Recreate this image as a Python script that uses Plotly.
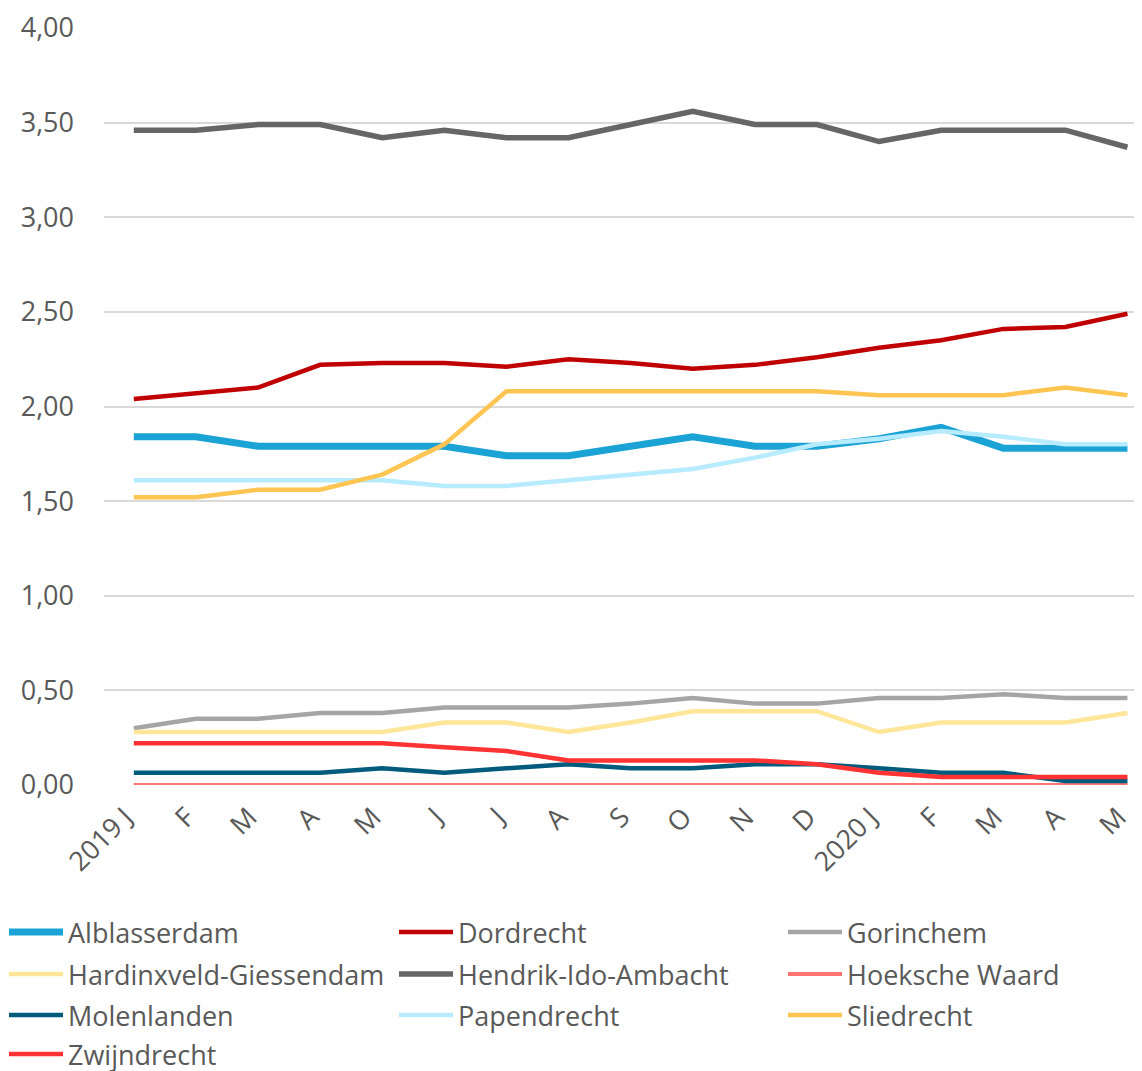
import plotly.graph_objects as go

months = ["2019 J", "F", "M", "A", "M", "J", "J", "A", "S", "O", "N", "D",
          "2020 J", "F", "M", "A", "M"]

names = ["Alblasserdam", "Dordrecht", "Gorinchem", "Hardinxveld-Giessendam",
         "Hendrik-Ido-Ambacht", "Hoeksche Waard", "Molenlanden", "Papendrecht",
         "Sliedrecht", "Zwijndrecht"]

alblasserdam = [1.84, 1.84, 1.79, 1.79, 1.79, 1.79, 1.74, 1.74, 1.79, 1.84, 1.79, 1.79,
                1.83, 1.89, 1.78, 1.78, 1.78]
dordrecht = [2.04, 2.07, 2.10, 2.22, 2.23, 2.23, 2.21, 2.25, 2.23, 2.20, 2.22, 2.26,
             2.31, 2.35, 2.41, 2.42, 2.49]
gorinchem = [0.30, 0.35, 0.35, 0.38, 0.38, 0.41, 0.41, 0.41, 0.43, 0.46, 0.43, 0.43,
             0.46, 0.46, 0.48, 0.46, 0.46]
hardinxveld = [0.28, 0.28, 0.28, 0.28, 0.28, 0.33, 0.33, 0.28, 0.33, 0.39, 0.39, 0.39,
               0.28, 0.33, 0.33, 0.33, 0.38]
hendrik = [3.46, 3.46, 3.49, 3.49, 3.42, 3.46, 3.42, 3.42, 3.49, 3.56, 3.49, 3.49,
           3.40, 3.46, 3.46, 3.46, 3.37]
hoeksche = [0.00] * 17
molenlanden = [0.065, 0.065, 0.065, 0.065, 0.088, 0.065, 0.088, 0.11, 0.088, 0.088, 0.11, 0.11,
               0.088, 0.065, 0.065, 0.021, 0.021]
papendrecht = [1.61, 1.61, 1.61, 1.61, 1.61, 1.58, 1.58, 1.61, 1.64, 1.67, 1.73, 1.80,
               1.83, 1.87, 1.84, 1.80, 1.80]
sliedrecht = [1.52, 1.52, 1.56, 1.56, 1.64, 1.80, 2.08, 2.08, 2.08, 2.08, 2.08, 2.08,
              2.06, 2.06, 2.06, 2.10, 2.06]
zwijndrecht = [0.22, 0.22, 0.22, 0.22, 0.22, 0.20, 0.18, 0.13, 0.13, 0.13, 0.13, 0.11,
               0.065, 0.042, 0.042, 0.042, 0.042]

series = [alblasserdam, dordrecht, gorinchem, hardinxveld, hendrik, hoeksche,
          molenlanden, papendrecht, sliedrecht, zwijndrecht]

colors = ["#1CA3D5", "#C00000", "#A5A5A5", "#FFE699", "#666666", "#FF7373",
          "#005B7C", "#B7EBFF", "#FFC553", "#FF3333"]
widths = [7, 4.5, 4.5, 4.5, 5.5, 4, 4.5, 4.5, 4.5, 4.5]

x = list(range(len(months)))

OFF = 7  # page offset of the figure inside the browser window
W, H = 1142 - OFF, 1071 - OFF
ML, MR, MT, MB = 103 - OFF, 0, 27 - OFF, 287
PW, PH = W - ML - MR, H - MT - MB

font = dict(family="Open Sans", size=27, color="#595959")

fig = go.Figure()
legends = {}
col_px = [-4, 386, 775]
row_center_page = [933, 975, 1016, 1055]
for i, (name, vals, c, w) in enumerate(zip(names, series, colors, widths)):
    key = "legend" if i == 0 else f"legend{i + 1}"
    fig.add_trace(go.Scatter(x=x, y=vals, name=name, mode="lines",
                             line=dict(color=c, width=w), legend=key))
    r, k = divmod(i, 3)
    top_px = row_center_page[r] - OFF - 26
    legends[key] = dict(
        orientation="v", xanchor="left", yanchor="top",
        x=(col_px[k] - ML) / PW, y=-(top_px - (MT + PH)) / PH,
        itemwidth=54, font=font, bgcolor="rgba(0,0,0,0)")

fig.update_layout(
    width=W, height=H,
    margin=dict(l=ML, r=MR, t=MT, b=MB, autoexpand=False),
    paper_bgcolor="white", plot_bgcolor="white",
    separators=", ",
    font=font,
    showlegend=True,
    xaxis=dict(range=[-0.48, 16.25], tickmode="array", tickvals=x, ticktext=months,
               tickangle=-45, showgrid=False, zeroline=False, showline=False,
               ticks="", tickfont=font, automargin=False,
               ticklabelshift=-9, ticklabelstandoff=10),
    yaxis=dict(range=[0, 4], dtick=0.5, tick0=0, tickformat=".2f",
               showgrid=True, gridcolor="#D9D9D9", gridwidth=2,
               zeroline=False, showline=False, ticks="", ticklabelstandoff=29,
               tickfont=font, automargin=False),
    **legends,
)

fig.write_html("out.html")
